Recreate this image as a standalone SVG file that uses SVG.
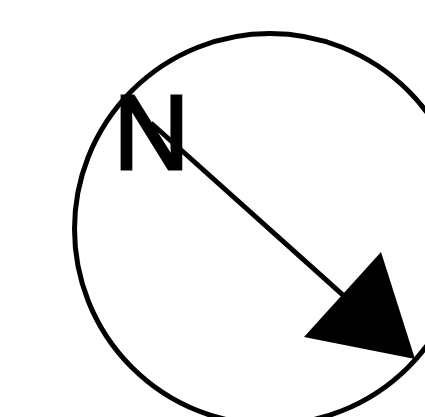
<svg xmlns="http://www.w3.org/2000/svg" width="425" height="417" viewBox="0 0 425 417">
<style>.s{fill:none;stroke:#000;stroke-width:5}</style>
<rect width="425" height="417" fill="#fff"/>
<g id="compass"><circle class="s" cx="270" cy="229" r="195.5"/></g>
<g id="connectors"><line class="s" x1="151" y1="123" x2="345" y2="296.8"/><polygon points="381,252 415,359 304,337"/></g>
<g id="north"><text x="113.5" y="169" font-family="Liberation Sans, Arial, sans-serif" font-size="105" stroke="#000" stroke-width="3">N</text></g>
</svg>
